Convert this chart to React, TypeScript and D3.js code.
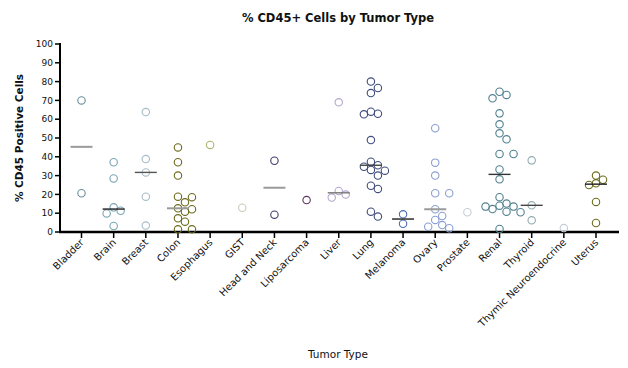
import * as d3 from 'd3';

const categories = [
  'Bladder', 'Brain', 'Breast', 'Colon', 'Esophagus', 'GIST', 'Head and Neck', 'Liposarcoma',
  'Liver', 'Lung', 'Melanoma', 'Ovary', 'Prostate', 'Renal', 'Thyroid', 'Thymic Neuroendocrine', 'Uterus',
];

const bladder = [70.0, 20.6];
const brain = [37.1, 28.5, 13.1, 11.3, 9.9, 3.2];
const breast = [63.8, 38.8, 31.7, 18.8, 3.4];
const colon = [45.0, 37.1, 30.0, 18.8, 18.5, 15.8, 12.6, 12.1, 10.8, 7.3, 5.5, 1.4, 1.4];
const esophagus = [46.3];
const gist = [12.9];
const headNeck = [37.9, 9.2];
const liposarcoma = [17.0];
const liver = [69.0, 21.8, 19.9, 18.3];
const lung = [80.0, 76.6, 73.9, 64.0, 62.9, 62.6, 48.9, 37.4, 35.5, 34.7, 33.0, 32.6, 30.0, 24.6, 22.9, 10.8, 8.2];
const melanoma = [9.4, 4.4];
const ovary = [55.2, 36.9, 30.0, 20.6, 20.6, 12.1, 8.5, 6.4, 3.7, 2.8, 2.0];
const prostate = [10.5];
const renal = [74.6, 72.9, 71.1, 63.1, 57.3, 52.5, 49.3, 41.5, 41.5, 33.3, 28.0, 18.5, 15.1, 14.0, 13.5, 13.5, 12.2, 10.8, 10.5, 1.6];
const thyroid = [38.1, 14.2, 6.2];
const thymic = [2.1];
const uterus = [30.0, 27.8, 25.9, 25.0, 16.0, 4.8];

const groupValues = [
  bladder, brain, breast, colon, esophagus, gist, headNeck, liposarcoma,
  liver, lung, melanoma, ovary, prostate, renal, thyroid, thymic, uterus,
];

const pointColors = [
  '#6a8f9d', '#7aa3b2', '#a8bcc6', '#6b6a1e', '#b0b26c', '#c9ccb8', '#3f3a6c', '#5e305f',
  '#b3a6cd', '#3f4d7e', '#4a6db3', '#8a9ed3', '#c8cdd3', '#4f7f8f', '#8faab1', '#c3ccd6', '#6c6c1c',
];

const medianColors = [
  '#9a9a9a', '#1e1e1e', '#555555', '#9a9a9a', '', '', '#9a9a9a', '',
  '#777777', '#444444', '#1e1e1e', '#9a9a9a', '', '#333333', '#444444', '', '#1e1e1e',
];

const yTicks = d3.range(0, 101, 10);

const W = 628;
const H = 368;
const font = "'DejaVu Sans', sans-serif";
const R = 3.7;

// simple beeswarm: try offsets 0, +s, -s, +2s ... until no overlap
function swarm(vals: number[], y: d3.ScaleLinear<number, number>) {
  const placed: { dx: number; py: number; v: number }[] = [];
  const step = 7;
  for (const v of vals) {
    const py = y(v);
    for (let k = 0; k < 20; k++) {
      const dx = k === 0 ? 0 : (k % 2 ? 1 : -1) * Math.ceil(k / 2) * step;
      const ok = placed.every(p => Math.hypot(p.dx - dx, p.py - py) >= 7.2);
      if (ok) { placed.push({ dx, py, v }); break; }
    }
  }
  return placed;
}

export default function App() {
  const x = d3.scalePoint<string>().domain(categories).range([81.5, 596]);
  const y = d3.scaleLinear().domain([0, 100]).range([232, 44]);
  const axisLeft = 60;
  const axisRight = 619;

  return (
    <svg width={W} height={H} style={{ position: 'absolute', left: 0, top: 0, background: '#fff' }}>
      <text x={338} y={22} textAnchor="middle" fontFamily={font} fontWeight="bold" fontSize={11.5} fill="#111">
        % CD45+ Cells by Tumor Type
      </text>

      {/* y axis */}
      <line x1={axisLeft} x2={axisLeft} y1={y(100) - 1} y2={y(0) + 1} stroke="#000" strokeWidth={2} />
      {yTicks.map(t => (
        <g key={t}>
          <line x1={axisLeft - 5} x2={axisLeft} y1={y(t)} y2={y(t)} stroke="#000" strokeWidth={1.5} />
          <text x={axisLeft - 7} y={y(t)} dy="0.35em" textAnchor="end" fontFamily={font} fontSize={9} fill="#111">{t}</text>
        </g>
      ))}
      <text transform={`translate(23,${(y(0) + y(100)) / 2}) rotate(-90)`} textAnchor="middle"
        fontFamily={font} fontWeight="bold" fontSize={10.5} fill="#111">% CD45 Positive Cells</text>

      {/* x axis */}
      <line x1={axisLeft - 1} x2={axisRight} y1={y(0)} y2={y(0)} stroke="#000" strokeWidth={2.5} />
      {categories.map(c => (
        <g key={c}>
          <line x1={x(c)} x2={x(c)} y1={y(0)} y2={y(0) + 6} stroke="#000" strokeWidth={1.5} />
          <text transform={`translate(${(x(c) as number) + 3},${y(0) + 11}) rotate(-45)`} textAnchor="end"
            fontFamily={font} fontSize={10} fill="#111">{c}</text>
        </g>
      ))}
      <text x={338} y={358} textAnchor="middle" fontFamily={font} fontSize={10.5} fill="#111">Tumor Type</text>

      {/* points and medians */}
      {categories.map((c, i) => {
        const cx = x(c) as number;
        const vals = groupValues[i];
        const pts = swarm(vals, y);
        const med = d3.median(vals) as number;
        return (
          <g key={c}>
            {pts.map((p, j) => (
              <circle key={j} cx={cx + p.dx} cy={p.py} r={R} fill="none" stroke={pointColors[i]} strokeWidth={1.1} />
            ))}
            {vals.length > 1 && (
              <line x1={cx - 11} x2={cx + 11} y1={y(med)} y2={y(med)} stroke={medianColors[i]}
                strokeWidth={medianColors[i] === '#9a9a9a' ? 2 : 1.4} />
            )}
          </g>
        );
      })}
    </svg>
  );
}
